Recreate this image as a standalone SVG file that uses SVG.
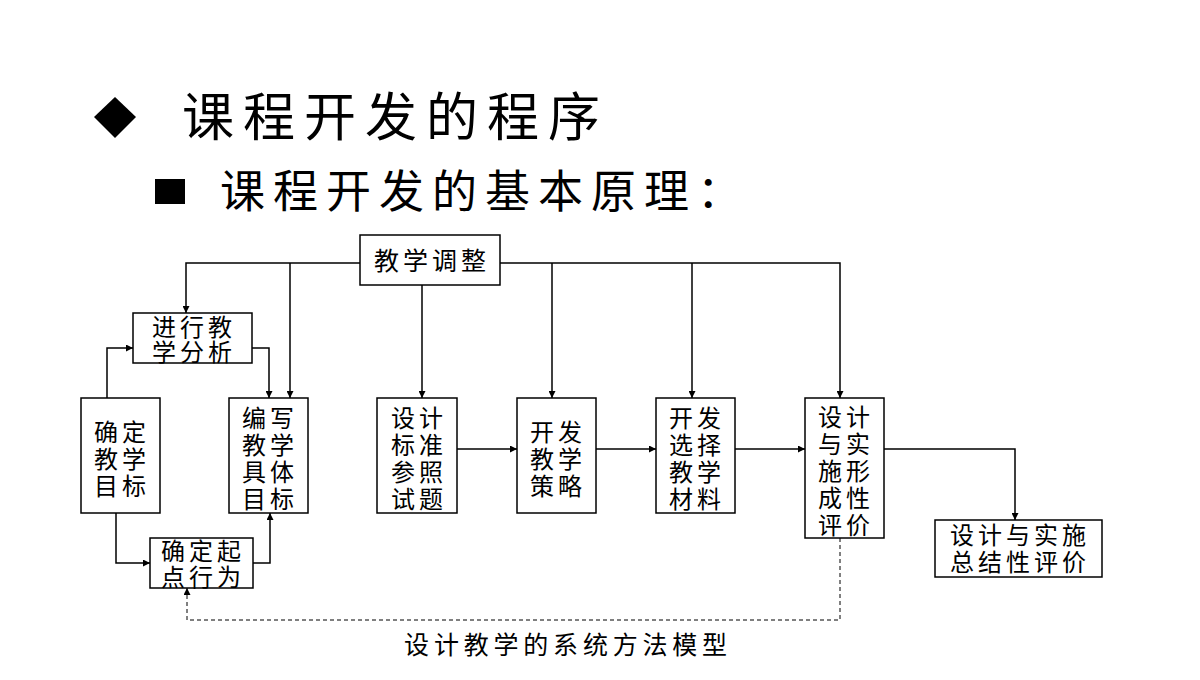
<svg xmlns="http://www.w3.org/2000/svg" width="1200" height="680" viewBox="0 0 1200 680">
<style>
.t{font-family:"Liberation Sans","Noto Sans CJK SC",sans-serif;fill:#000}
.bt{font-size:24px;letter-spacing:4px;text-anchor:middle;dominant-baseline:central}
.box{fill:#fff;stroke:#000;stroke-width:1.5}
.ln{fill:none;stroke:#000;stroke-width:1.5}
.dash{fill:none;stroke:#000;stroke-width:1;stroke-dasharray:4 3}
</style>
<defs>
<marker id="ar" viewBox="0 0 10 10" refX="10" refY="5" markerWidth="7" markerHeight="7" markerUnits="userSpaceOnUse" orient="auto">
<path d="M0,0 L10,5 L0,10 z" fill="#000"/>
</marker>
</defs>
<rect width="1200" height="680" fill="#fff"/>
<g id="title">
<polygon points="115,97 136,117 115,138 94,117" fill="#000"/>
<text class="t" x="182" y="118" font-size="52" letter-spacing="9" dominant-baseline="central">课程开发的程序</text>
<rect x="155" y="179" width="30" height="25" fill="#000"/>
<text class="t" x="220" y="192" font-size="45" letter-spacing="8" dominant-baseline="central">课程开发的基本原理：</text>
</g>
<g id="connectors">
<polyline class="ln" points="360,263 186,263 186,313" marker-end="url(#ar)"/>
<line class="ln" x1="290" y1="263" x2="290" y2="398" marker-end="url(#ar)"/>
<polyline class="ln" points="500,263 840,263 840,398" marker-end="url(#ar)"/>
<line class="ln" x1="552" y1="263" x2="552" y2="398" marker-end="url(#ar)"/>
<line class="ln" x1="692" y1="263" x2="692" y2="398" marker-end="url(#ar)"/>
<line class="ln" x1="422" y1="285" x2="422" y2="398" marker-end="url(#ar)"/>
<polyline class="ln" points="107,398 107,348 133,348" marker-end="url(#ar)"/>
<polyline class="ln" points="252,348 269,348 269,398" marker-end="url(#ar)"/>
<polyline class="ln" points="116,513 116,563 150,563" marker-end="url(#ar)"/>
<polyline class="ln" points="253,563 270,563 270,513" marker-end="url(#ar)"/>
<line class="ln" x1="457" y1="449" x2="517" y2="449" marker-end="url(#ar)"/>
<line class="ln" x1="596" y1="449" x2="656" y2="449" marker-end="url(#ar)"/>
<line class="ln" x1="735" y1="449" x2="805" y2="449" marker-end="url(#ar)"/>
<polyline class="ln" points="884,449 1015,449 1015,520" marker-end="url(#ar)"/>
<polyline class="dash" points="840,538 840,620 187,620 187,588" marker-end="url(#ar)"/>
</g>
<g id="n-adjust">
<rect class="box" x="360" y="235" width="140" height="50"/>
<text class="t bt" x="432" y="261" style="font-size:25px">教学调整</text>
</g>
<g id="n-analysis">
<rect class="box" x="133" y="313" width="119" height="50"/>
<text class="t bt" x="194" y="327"><tspan x="194">进行教</tspan><tspan x="194" dy="25">学分析</tspan></text>
</g>
<g id="n-goal">
<rect class="box" x="81" y="398" width="79" height="115"/>
<text class="t bt" x="122" y="432"><tspan x="122">确定</tspan><tspan x="122" dy="27">教学</tspan><tspan x="122" dy="27">目标</tspan></text>
</g>
<g id="n-write">
<rect class="box" x="229" y="398" width="79" height="115"/>
<text class="t bt" x="270" y="418"><tspan x="270">编写</tspan><tspan x="270" dy="27">教学</tspan><tspan x="270" dy="27">具体</tspan><tspan x="270" dy="27">目标</tspan></text>
</g>
<g id="n-start">
<rect class="box" x="150" y="538" width="103" height="50"/>
<text class="t bt" x="203" y="551"><tspan x="203">确定起</tspan><tspan x="203" dy="26">点行为</tspan></text>
</g>
<g id="n-test">
<rect class="box" x="377" y="398" width="80" height="115"/>
<text class="t bt" x="419" y="418"><tspan x="419">设计</tspan><tspan x="419" dy="27">标准</tspan><tspan x="419" dy="27">参照</tspan><tspan x="419" dy="27">试题</tspan></text>
</g>
<g id="n-strategy">
<rect class="box" x="517" y="398" width="79" height="115"/>
<text class="t bt" x="558" y="432"><tspan x="558">开发</tspan><tspan x="558" dy="27">教学</tspan><tspan x="558" dy="27">策略</tspan></text>
</g>
<g id="n-material">
<rect class="box" x="656" y="398" width="79" height="115"/>
<text class="t bt" x="697" y="418"><tspan x="697">开发</tspan><tspan x="697" dy="27">选择</tspan><tspan x="697" dy="27">教学</tspan><tspan x="697" dy="27">材料</tspan></text>
</g>
<g id="n-formative">
<rect class="box" x="805" y="398" width="79" height="140"/>
<text class="t bt" x="846" y="417"><tspan x="846">设计</tspan><tspan x="846" dy="27">与实</tspan><tspan x="846" dy="27">施形</tspan><tspan x="846" dy="27">成性</tspan><tspan x="846" dy="27">评价</tspan></text>
</g>
<g id="n-summative">
<rect class="box" x="935" y="520" width="167" height="57"/>
<text class="t bt" x="1020" y="535"><tspan x="1020">设计与实施</tspan><tspan x="1020" dy="27">总结性评价</tspan></text>
</g>
<text class="t bt" x="568" y="645" style="font-size:25px;letter-spacing:4.8px">设计教学的系统方法模型</text>
</svg>
